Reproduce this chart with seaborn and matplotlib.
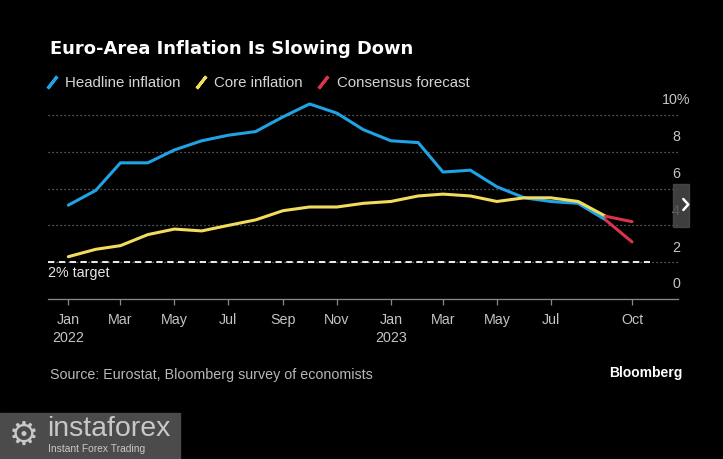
import pandas as pd
import matplotlib.pyplot as plt
from matplotlib.lines import Line2D
from matplotlib.patches import Rectangle
import seaborn as sns

# monthly YoY rates, Jan 2022 - Sep 2023
months = pd.date_range("2022-01-01", "2023-09-01", freq="MS")
headline = [5.1, 5.9, 7.4, 7.4, 8.1, 8.6, 8.9, 9.1, 9.9, 10.6, 10.1, 9.2,
            8.6, 8.5, 6.9, 7.0, 6.1, 5.5, 5.3, 5.2, 4.3]
core = [2.3, 2.7, 2.9, 3.5, 3.8, 3.7, 4.0, 4.3, 4.8, 5.0, 5.0, 5.2,
        5.3, 5.6, 5.7, 5.6, 5.3, 5.5, 5.5, 5.3, 4.5]

# consensus forecast for October 2023
forecast_dates = pd.to_datetime(["2023-09-01", "2023-10-01"])
headline_forecast = [4.3, 3.1]
core_forecast = [4.5, 4.2]
target = 2

tick_dates = pd.to_datetime(["2022-01-01", "2022-03-01", "2022-05-01", "2022-07-01",
                             "2022-09-01", "2022-11-01", "2023-01-01", "2023-03-01",
                             "2023-05-01", "2023-07-01", "2023-10-01"])
tick_labels = ["Jan\n2022", "Mar", "May", "Jul", "Sep", "Nov",
               "Jan\n2023", "Mar", "May", "Jul", "Oct"]
y_ticks = [0, 2, 4, 6, 8, 10]
y_labels = ["0", "2", "4", "6", "8", "10%"]

BLUE = "#1fa3e4"
YELLOW = "#f2dc5d"
RED = "#d9344a"
GREY = "#c4c4c4"

sns.set_theme(style="dark", rc={"axes.facecolor": "black", "figure.facecolor": "black"})
plt.rcParams["font.family"] = ["Liberation Sans", "DejaVu Sans"]

W, H = 723, 459
fig = plt.figure(figsize=(W / 100, H / 100), dpi=100)
ax = fig.add_axes([48 / W, 160 / H, 630 / W, 202.4 / H])

sns.lineplot(x=months, y=headline, ax=ax, color=BLUE, lw=2.2, legend=False)
sns.lineplot(x=months, y=core, ax=ax, color=YELLOW, lw=2.2, legend=False)
sns.lineplot(x=forecast_dates, y=headline_forecast, ax=ax, color=RED, lw=2.2, legend=False)
sns.lineplot(x=forecast_dates, y=core_forecast, ax=ax, color=RED, lw=2.2, legend=False)

ax.set_xlim(pd.Timestamp("2021-12-09"), pd.Timestamp("2023-11-22"))
ax.set_ylim(0, 11)

# grid + 2% target
ax.set_yticks(y_ticks)
ax.set_yticklabels([])
ax.yaxis.grid(True, ls=(0, (1, 2.2)), color="#7a7a7a", lw=0.9)
ax.xaxis.grid(False)
ax.set_axisbelow(True)
ax.axhline(target, xmin=0, xmax=(650 - 48) / 630, color="white", lw=1.3, ls=(0, (3.5, 2.5)))
ax.annotate("2% target", xy=(0, target), xycoords=("axes fraction", "data"),
            xytext=(0, -8), textcoords="offset points", ha="left", va="center",
            color="#e6e6e6", fontsize=10.3)

for v, lab in zip(y_ticks, y_labels):
    ax.annotate(lab, xy=((676 - 48) / 630, v), xycoords=("axes fraction", "data"),
                xytext=(0, 10.5), textcoords="offset points", ha="center", va="center",
                color=GREY, fontsize=10.3, annotation_clip=False)

ax.set_xticks(tick_dates)
ax.set_xticklabels(tick_labels, linespacing=1.35)
ax.tick_params(axis="x", bottom=True, direction="out", length=4, width=0.9,
               color="#8a8a8a", labelcolor=GREY, labelsize=10.3, pad=6)
ax.tick_params(axis="y", left=False, right=False, length=0)
for s in ["top", "left", "right"]:
    ax.spines[s].set_visible(False)
ax.spines["bottom"].set_color("#8a8a8a")
ax.spines["bottom"].set_linewidth(0.9)
ax.set_xlabel("")
ax.set_ylabel("")

# title and legend
fig.text(50 / W, 1 - 49 / H, "Euro-Area Inflation Is Slowing Down", color="white",
         fontsize=12.9, fontweight="bold", family="DejaVu Sans", va="center", ha="left")
handles = [Line2D([], [], color=c, marker=(2, 2, -38), markersize=11, markeredgewidth=2.2,
                  linestyle="None") for c in [BLUE, YELLOW, RED]]
leg = fig.legend(handles, ["Headline inflation", "Core inflation", "Consensus forecast"],
                 loc="center left", bbox_to_anchor=(45 / W, 1 - 83 / H), ncol=3,
                 frameon=False, handlelength=0.9, handletextpad=0.45, columnspacing=0.9,
                 fontsize=10.8, borderaxespad=0, borderpad=0)
for t in leg.get_texts():
    t.set_color("#d4d4d4")

fig.text(50 / W, 1 - 375 / H, "Source: Eurostat, Bloomberg survey of economists",
         color="#b8b8b8", fontsize=10.3, va="center", ha="left")
fig.text(683 / W, 1 - 373 / H, "Bloomberg", color="white", fontsize=10,
         fontweight="bold", va="center", ha="right")

# carousel arrow overlay
fig.patches.append(Rectangle((673 / W, 1 - 227 / H), 16 / W, 43 / H,
                             transform=fig.transFigure, color="#4a4a4a", alpha=0.85, zorder=5))
fig.add_artist(Line2D([683.3 / W, 688.3 / W, 683.3 / W], [1 - 199 / H, 1 - 204.5 / H, 1 - 210 / H],
                      transform=fig.transFigure, color="white", lw=1.8, zorder=6))

# watermark
fig.patches.append(Rectangle((0, 0), 180 / W, 46 / H, transform=fig.transFigure,
                             color="#4b4b4b", zorder=5))
fig.text(24 / W, 1 - 435 / H, "\u2699", color="#c8c8c8", fontsize=24, family="DejaVu Sans",
         ha="center", va="center", zorder=6)
fig.text(47 / W, 1 - 429 / H, "instaforex", color="#c8c8c8", fontsize=20.5,
         ha="left", va="center", zorder=6)
fig.text(48 / W, 1 - 449 / H, "Instant Forex Trading", color="#c8c8c8", fontsize=7.4,
         ha="left", va="center", zorder=6)

fig.savefig("out.png", dpi=100, facecolor="black")
